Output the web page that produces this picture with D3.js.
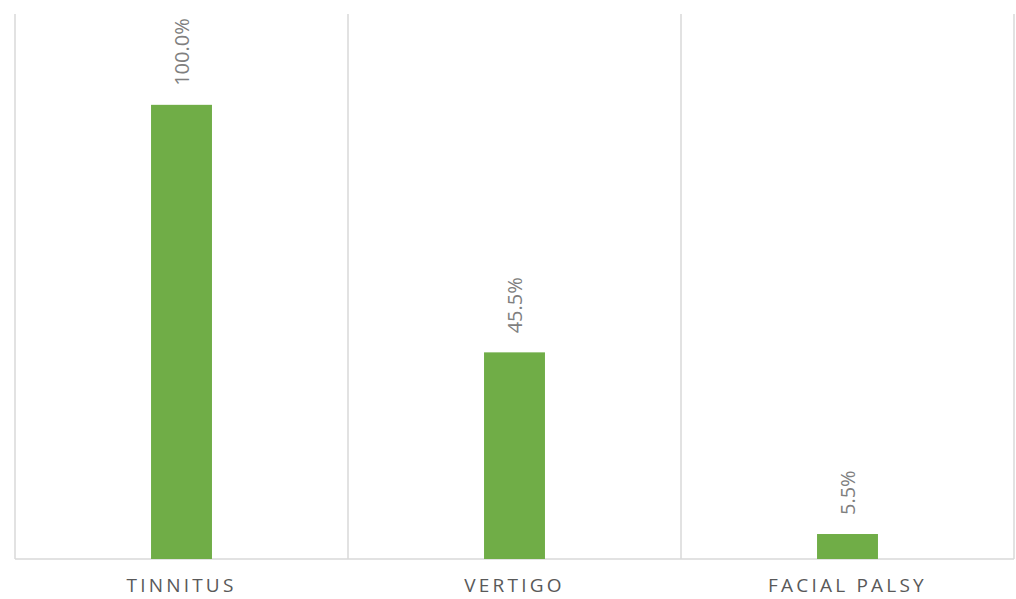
<!DOCTYPE html>
<html>
<head>
<meta charset="utf-8">
<script src="https://cdn.jsdelivr.net/npm/d3@7"></script>
<style>
  body { margin: 0; background: #fff; }
  svg { display: block; }
</style>
</head>
<body>
<svg id="chart" width="1016" height="599"></svg>
<script>
// chart data
const categories = ['TINNITUS', 'VERTIGO', 'FACIAL PALSY'];
const values = [100.0, 45.5, 5.5];
const yMax = 120;

const svg = d3.select('#chart');
const margin = { top: 14, right: 2, bottom: 40, left: 15 };
const width = +svg.attr('width') - margin.left - margin.right;
const height = +svg.attr('height') - margin.top - margin.bottom;

const g = svg.append('g').attr('transform', `translate(${margin.left},${margin.top})`);

const x = d3.scaleBand().domain(categories).range([0, width]).paddingInner(0).paddingOuter(0);
const y = d3.scaleLinear().domain([0, yMax]).range([height, 0]);

// vertical gridlines at category boundaries
const bounds = categories.map(c => x(c)).concat([width]);
g.selectAll('line.grid')
  .data(bounds)
  .join('line')
  .attr('class', 'grid')
  .attr('x1', d => d).attr('x2', d => d)
  .attr('y1', 0).attr('y2', height)
  .attr('stroke', '#d9d9d9')
  .attr('stroke-width', 1.5);

// baseline
g.append('line')
  .attr('x1', 0).attr('x2', width)
  .attr('y1', height).attr('y2', height)
  .attr('stroke', '#d9d9d9')
  .attr('stroke-width', 1.5);

const barW = x.bandwidth() * 0.183;

g.selectAll('rect.bar')
  .data(values)
  .join('rect')
  .attr('class', 'bar')
  .attr('x', (d, i) => x(categories[i]) + x.bandwidth() / 2 - barW / 2)
  .attr('y', d => y(d))
  .attr('width', barW)
  .attr('height', d => height - y(d))
  .attr('fill', '#70ad47');

// value labels, rotated
g.selectAll('text.val')
  .data(values)
  .join('text')
  .attr('class', 'val')
  .attr('transform', (d, i) => `translate(${x(categories[i]) + x.bandwidth() / 2 + 7},${y(d) - 19}) rotate(-90)`)
  .attr('font-family', 'Open Sans, sans-serif')
  .attr('font-size', 20)
  .attr('fill', '#7f7f7f')
  .text(d => d.toFixed(1) + '%');

// category axis labels
g.selectAll('text.cat')
  .data(categories)
  .join('text')
  .attr('class', 'cat')
  .attr('x', d => x(d) + x.bandwidth() / 2)
  .attr('y', height + 33)
  .attr('text-anchor', 'middle')
  .attr('font-family', 'Open Sans, sans-serif')
  .attr('font-size', 19)
  .attr('letter-spacing', 3.2)
  .attr('fill', '#595959')
  .text(d => d);
</script>
</body>
</html>
